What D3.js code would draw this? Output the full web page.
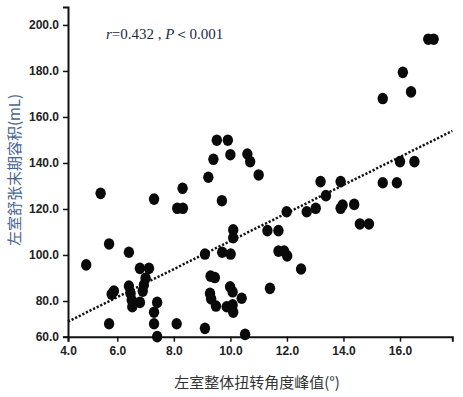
<!DOCTYPE html>
<html>
<head>
<meta charset="utf-8">
<script src="https://cdn.jsdelivr.net/npm/d3@7"></script>
<style>
  body { margin: 0; background: #fff; }
  .tick text { font-family: "Liberation Sans Narrow", "Liberation Sans", Arial, sans-serif; font-size: 12px; font-weight: bold; fill: #222; }
</style>
</head>
<body>
<script>
// peak LV global torsion (deg) vs LV end-diastolic volume (mL)
var torsion = [4.90, 5.41, 5.71, 5.71, 5.80, 5.88, 6.41, 6.41, 6.47, 6.51,
               6.53, 6.80, 7.12, 7.00, 6.94, 6.90, 6.80, 7.41, 7.30, 7.30,
               7.41, 7.30, 8.10, 8.31, 8.12, 8.32, 9.10, 9.10, 9.22, 9.40,
               9.52, 9.91, 10.00, 10.60, 10.70, 11.00, 9.70, 9.71, 10.01, 10.10,
               10.10, 9.30, 9.45, 9.28, 9.32, 9.49, 9.99, 10.08, 10.40, 9.87,
               10.08, 10.10, 10.52, 11.31, 11.70, 11.70, 11.90, 12.01, 12.50, 11.40,
               11.99, 12.70, 13.02, 13.19, 13.38, 13.90, 13.97, 13.90, 14.38, 14.58,
               14.90, 15.39, 15.89, 16.00, 16.51, 15.39, 16.10, 16.39, 17.00, 17.19];
var edv = [95.7, 126.8, 104.8, 70.1, 83.0, 84.3, 101.2, 86.5, 83.3, 80.4,
           77.5, 94.2, 94.2, 89.9, 87.0, 84.3, 79.4, 79.4, 75.1, 70.1,
           64.5, 124.3, 70.1, 129.0, 120.3, 120.3, 100.4, 68.1, 133.8, 141.6,
           149.9, 149.9, 143.6, 143.9, 140.6, 134.8, 123.6, 101.2, 100.4, 110.9,
           107.5, 90.8, 90.2, 83.3, 80.9, 77.8, 86.2, 84.0, 81.2, 77.5,
           78.3, 75.1, 65.5, 110.6, 110.6, 101.7, 101.7, 99.6, 93.9, 85.5,
           118.8, 118.8, 120.3, 131.9, 125.8, 131.9, 121.7, 120.3, 122.0, 113.5,
           113.5, 131.4, 131.4, 140.6, 140.6, 168.0, 179.4, 170.9, 193.8, 193.8];

var xTicks = [6, 8, 10, 12, 14, 16];
var yTicks = [80, 100, 120, 140, 160, 180, 200];
var xOriginLabel = "4.0";
var yOriginLabel = "60.0";

// fitted line  y = a + b*x
var fitIntercept = 45.1;
var fitSlope = 6.096;

var w = 463, h = 397;

var x = d3.scaleLinear().domain([4.256, 17.85]).range([68, 452.3]);
var y = d3.scaleLinear().domain([64.48, 207.8]).range([336.7, 7]);

var svg = d3.select("body").append("svg")
    .attr("width", w)
    .attr("height", h);

// axes
var xAxis = d3.axisBottom(x)
    .tickValues([x.domain()[0]].concat(xTicks))
    .tickSize(5)
    .tickPadding(5)
    .tickFormat(function(d, i) { return i === 0 ? xOriginLabel : d3.format(".1f")(d); });

var yAxis = d3.axisLeft(y)
    .tickValues([y.domain()[0]].concat(yTicks))
    .tickSize(5)
    .tickPadding(4)
    .tickFormat(function(d, i) { return i === 0 ? yOriginLabel : d3.format(".1f")(d); });

var gx = svg.append("g")
    .attr("transform", "translate(0," + y.range()[0] + ")")
    .call(xAxis);
var gy = svg.append("g")
    .attr("transform", "translate(" + x.range()[0] + ",0)")
    .call(yAxis);

[gx, gy].forEach(function(g) {
    g.select(".domain").attr("stroke", "#111").attr("stroke-width", 2);
    g.selectAll(".tick line").attr("stroke", "#111").attr("stroke-width", 1.5);
});

// dotted fit line
var x0 = x.domain()[0], x1 = x.domain()[1];
svg.append("line")
    .attr("x1", x(x0)).attr("y1", y(fitIntercept + fitSlope * x0))
    .attr("x2", x(x1)).attr("y2", y(fitIntercept + fitSlope * x1))
    .attr("stroke", "#111")
    .attr("stroke-width", 2.5)
    .attr("stroke-dasharray", "2.2,1.8");

// points
svg.selectAll("circle.pt")
    .data(torsion)
    .enter()
    .append("ellipse")
    .attr("class", "pt")
    .attr("cx", function(d) { return x(d); })
    .attr("cy", function(d, i) { return y(edv[i]); })
    .attr("rx", 5.2)
    .attr("ry", 5.8)
    .attr("fill", "#0a0a0a");

// annotation
var note = svg.append("text")
    .attr("x", 106)
    .attr("y", 39)
    .attr("font-family", "'Liberation Serif', 'DejaVu Serif', serif")
    .attr("font-size", 15)
    .attr("fill", "#1c2a48");
note.append("tspan").attr("font-style", "italic").text("r");
note.append("tspan").text("=0.432 , ");
note.append("tspan").attr("font-style", "italic").text("P");
note.append("tspan").text("\uFF1C0.001");

// axis titles
svg.append("text")
    .attr("x", 257)
    .attr("y", 388)
    .attr("text-anchor", "middle")
    .attr("font-family", "'Noto Sans CJK SC', sans-serif")
    .attr("font-size", 15)
    .attr("fill", "#333")
    .text("左室整体扭转角度峰值(°)");

svg.append("text")
    .attr("transform", "translate(20,170) rotate(-90)")
    .attr("text-anchor", "middle")
    .attr("font-family", "'Noto Sans CJK SC', sans-serif")
    .attr("font-size", 15)
    .attr("fill", "#4a6590")
    .text("左室舒张末期容积(mL)");
</script>
</body>
</html>
